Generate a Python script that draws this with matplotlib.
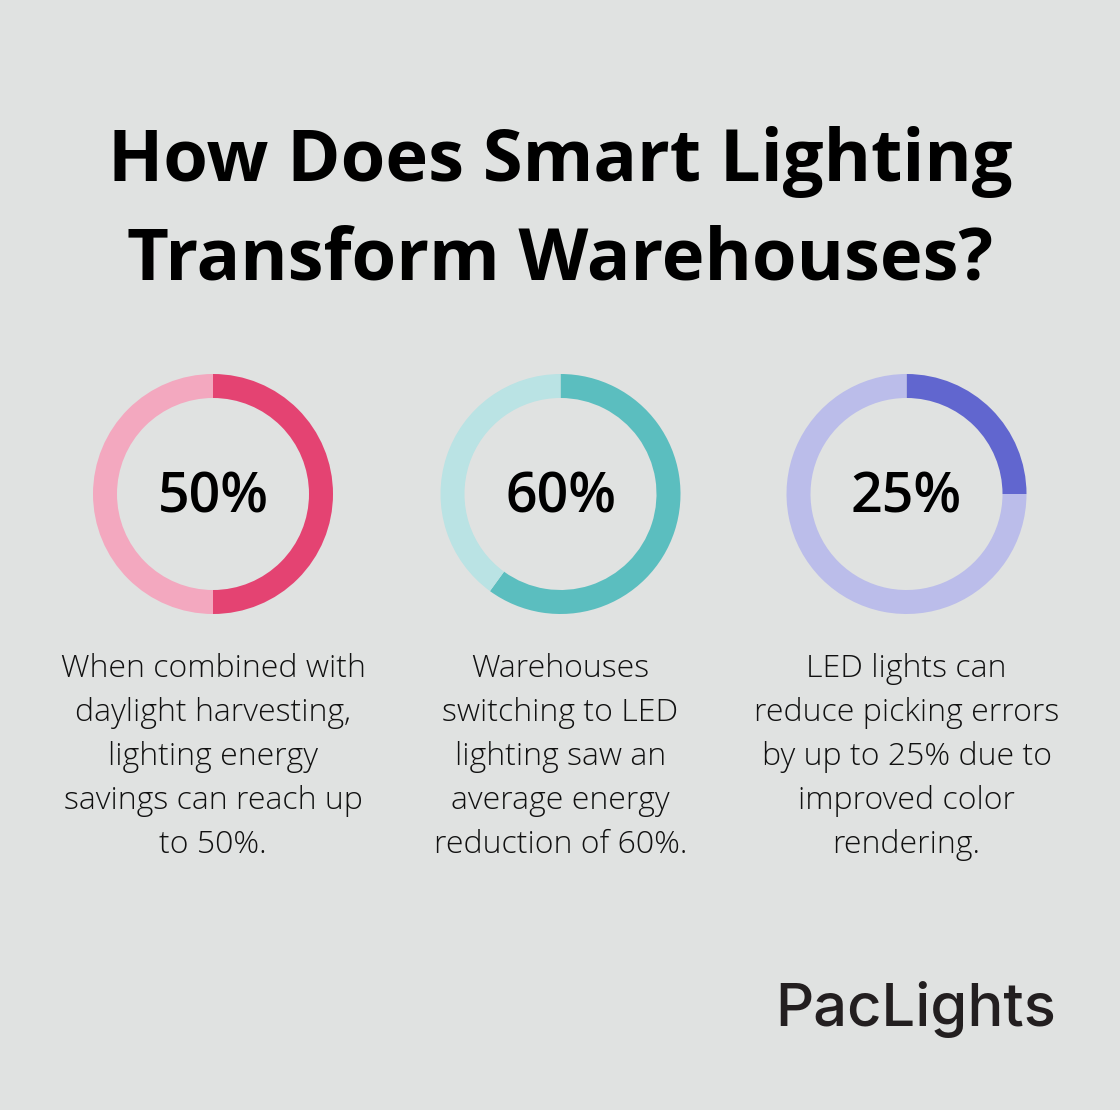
import matplotlib
matplotlib.use("Agg")
import matplotlib.pyplot as plt

# Data
title_lines = ["How Does Smart Lighting", "Transform Warehouses?"]
values = [50, 60, 25]
labels = ["50%", "60%", "25%"]
descriptions = [
    "When combined with\ndaylight harvesting,\nlighting energy\nsavings can reach up\nto 50%.",
    "Warehouses\nswitching to LED\nlighting saw an\naverage energy\nreduction of 60%.",
    "LED lights can\nreduce picking errors\nby up to 25% due to\nimproved color\nrendering.",
]
dark_colors = ["#E44372", "#5BBEBF", "#6166CF"]
light_colors = ["#F3A8BF", "#BAE3E4", "#BBBDEA"]
brand = "PacLights"

W, H = 1120, 1110
bg = "#E0E2E1"
fig = plt.figure(figsize=(W / 100, H / 100), dpi=100, facecolor=bg)

FONT = ["Open Sans", "DejaVu Sans"]

fig.text(0.5, 1 - 162 / H, title_lines[0], ha="center", va="center",
         fontsize=52, fontweight="bold", family=FONT, color="#000000")
fig.text(0.5, 1 - 260 / H, title_lines[1], ha="center", va="center",
         fontsize=52, fontweight="bold", family=FONT, color="#000000")

centers_x = [213, 560.5, 906.5]
cy = 494
R = 120
for i, (v, lab, desc) in enumerate(zip(values, labels, descriptions)):
    cx = centers_x[i]
    ax = fig.add_axes([(cx - R) / W, (H - cy - R) / H, 2 * R / W, 2 * R / H])
    ax.set_facecolor(bg)
    ax.pie([v, 100 - v], colors=[dark_colors[i], light_colors[i]],
           startangle=90, counterclock=False, radius=1,
           wedgeprops=dict(width=0.2, linewidth=0))
    ax.set_xlim(-1, 1)
    ax.set_ylim(-1, 1)
    ax.set_aspect("equal")
    ax.axis("off")
    ax.text(0, -0.035, lab, ha="center", va="center", fontsize=40,
            fontweight="semibold", family=FONT, color="#000000")
    fig.text(cx / W, 1 - 757 / H, desc, ha="center", va="center",
             fontsize=23, fontweight="light", family=FONT, color="#111111",
             linespacing=1.495)

fig.text(1056 / W, 1 - 1009 / H, brand, ha="right", va="center",
         fontsize=43, fontweight="medium", family=["Inter", "DejaVu Sans"],
         color="#231F20")

fig.savefig("out.png", dpi=100, facecolor=bg)
